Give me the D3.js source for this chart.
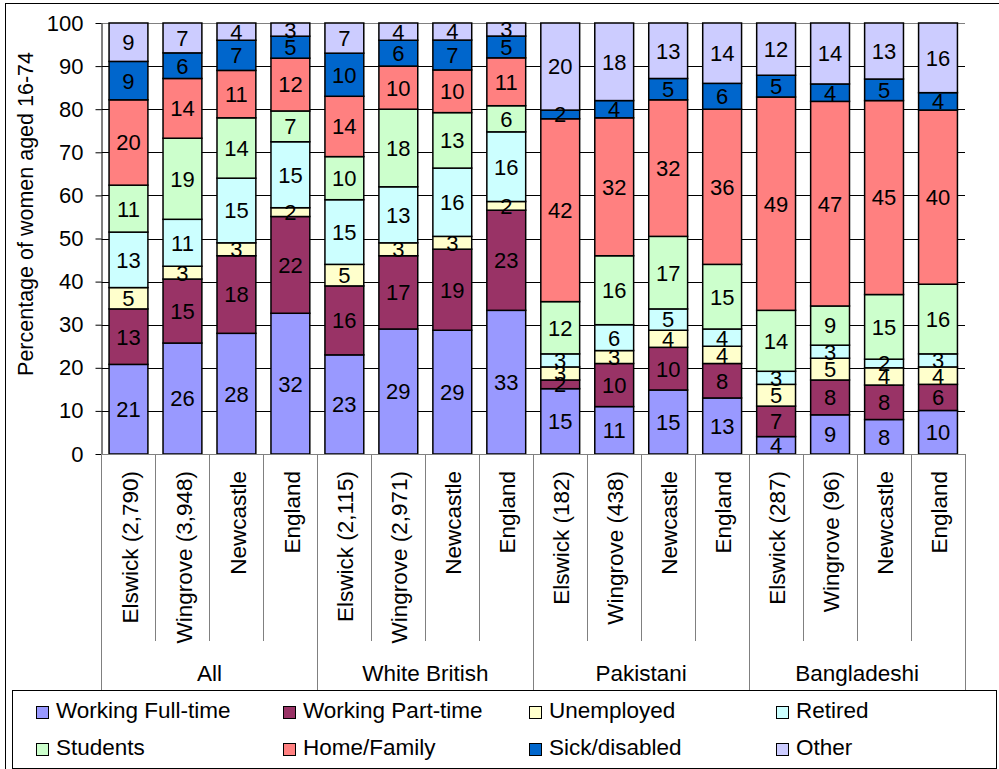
<!DOCTYPE html>
<html>
<head>
<meta charset="utf-8">
<script src="https://cdn.jsdelivr.net/npm/d3@7/dist/d3.min.js"></script>
<style>
  html, body { margin: 0; padding: 0; background: #fff; }
  svg { display: block; font-family: "Liberation Sans", Arial, sans-serif; }
</style>
</head>
<body>
<svg id="chart" width="999" height="769"></svg>
<script>
// Economic activity of women aged 16-74, by area and ethnic group (percent)
const categories = [
  "Elswick (2,790)", "Wingrove (3,948)", "Newcastle", "England",
  "Elswick (2,115)", "Wingrove (2,971)", "Newcastle", "England",
  "Elswick (182)", "Wingrove (438)", "Newcastle", "England",
  "Elswick (287)", "Wingrove (96)", "Newcastle", "England"
];
const groups = ["All", "White British", "Pakistani", "Bangladeshi"];
const seriesNames = [
  "Working Full-time", "Working Part-time", "Unemployed", "Retired",
  "Students", "Home/Family", "Sick/disabled", "Other"
];
const seriesColors = [
  "#9999FF", "#993366", "#FFFFCC", "#CCFFFF",
  "#CCFFCC", "#FF8080", "#0066CC", "#CCCCFF"
];

const workingFullTime = [21, 26, 28, 32, 23, 29, 29, 33, 15, 11, 15, 13, 4, 9, 8, 10];
const workingPartTime = [13, 15, 18, 22, 16, 17, 19, 23, 2, 10, 10, 8, 7, 8, 8, 6];
const unemployed      = [5, 3, 3, 2, 5, 3, 3, 2, 3, 3, 4, 4, 5, 5, 4, 4];
const retired         = [13, 11, 15, 15, 15, 13, 16, 16, 3, 6, 5, 4, 3, 3, 2, 3];
const students        = [11, 19, 14, 7, 10, 18, 13, 6, 12, 16, 17, 15, 14, 9, 15, 16];
const homeFamily      = [20, 14, 11, 12, 14, 10, 10, 11, 42, 32, 32, 36, 49, 47, 45, 40];
const sickDisabled    = [9, 6, 7, 5, 10, 6, 7, 5, 2, 4, 5, 6, 5, 4, 5, 4];
const other           = [9, 7, 4, 3, 7, 4, 4, 3, 20, 18, 13, 14, 12, 14, 13, 16];

const yTicks = [0, 10, 20, 30, 40, 50, 60, 70, 80, 90, 100];

const seriesValues = [workingFullTime, workingPartTime, unemployed, retired,
                      students, homeFamily, sickDisabled, other];

// one row per column, keyed by series name
const rows = categories.map((c, i) => {
  const r = { index: i };
  seriesNames.forEach((s, k) => { r[s] = seriesValues[k][i]; });
  return r;
});

const svg = d3.select("#chart");
const FONT = 22;
const BIG = 22.5;

// outer frame
svg.append("rect")
  .attr("x", 5.5).attr("y", 3.5)
  .attr("width", 1010).attr("height", 800)
  .attr("fill", "none").attr("stroke", "#000").attr("stroke-width", 1);

const plot = { left: 101.5, right: 965, top: 23, bottom: 454 };

const x = d3.scaleBand()
  .domain(d3.range(categories.length))
  .range([plot.left, plot.right])
  .paddingInner(0.28)
  .paddingOuter(0.14);

const y = d3.scaleLinear().domain([0, 100]).range([plot.bottom, plot.top]);

// 100% stacked layout
const stack = d3.stack().keys(seriesNames).offset(d3.stackOffsetExpand);
const stacked = stack(rows);

// horizontal gridlines
svg.append("g")
  .selectAll("line")
  .data(yTicks.filter(t => t > 0))
  .join("line")
  .attr("x1", plot.left).attr("x2", plot.right)
  .attr("y1", d => Math.round(y(d)) + 0.5).attr("y2", d => Math.round(y(d)) + 0.5)
  .attr("stroke", d => d === 100 ? "#808080" : "#000")
  .attr("stroke-width", 1);

// y axis
const yAxis = d3.axisLeft(y)
  .tickValues(yTicks)
  .tickSize(6)
  .tickPadding(12)
  .tickSizeOuter(0);
const yg = svg.append("g")
  .attr("transform", `translate(${plot.left},0)`)
  .call(yAxis);
yg.select(".domain").attr("stroke", "#000");
yg.selectAll(".tick line").attr("stroke", "#000");
yg.selectAll(".tick text")
  .attr("font-size", FONT)
  .attr("font-family", "Liberation Sans, Arial, sans-serif")
  .attr("fill", "#000");

// y axis title
svg.append("text")
  .attr("transform", "translate(33,214) rotate(-90)")
  .attr("text-anchor", "middle")
  .attr("font-size", BIG - 1)
  .text("Percentage of women aged 16-74");

// stacked columns
const layers = svg.append("g")
  .selectAll("g")
  .data(stacked)
  .join("g")
  .attr("fill", (d, i) => seriesColors[i]);

layers.selectAll("rect")
  .data(d => d)
  .join("rect")
  .attr("x", d => x(d.data.index))
  .attr("width", x.bandwidth())
  .attr("y", d => y(d[1] * 100))
  .attr("height", d => y(d[0] * 100) - y(d[1] * 100))
  .attr("stroke", "#000")
  .attr("stroke-width", 1.5);

// value labels
const labels = svg.append("g")
  .attr("font-size", FONT)
  .attr("text-anchor", "middle");
stacked.forEach((layer, k) => {
  labels.selectAll(null)
    .data(layer)
    .join("text")
    .attr("x", d => x(d.data.index) + x.bandwidth() / 2)
    .attr("y", d => y((d[0] + d[1]) * 50))
    .attr("dy", "0.36em")
    .text(d => d.data[seriesNames[k]]);
});

// x axis line
svg.append("line")
  .attr("x1", plot.left).attr("x2", plot.right)
  .attr("y1", plot.bottom + 0.5).attr("y2", plot.bottom + 0.5)
  .attr("stroke", "#808080");

// category dividers (group boundaries run down to the legend)
const step = x.step();
const boundary = i => x(0) - (step - x.bandwidth()) / 2 + i * step;
svg.append("g")
  .selectAll("line")
  .data(d3.range(categories.length + 1))
  .join("line")
  .attr("x1", i => Math.round(boundary(i)) + 0.5)
  .attr("x2", i => Math.round(boundary(i)) + 0.5)
  .attr("y1", plot.bottom)
  .attr("y2", i => i % 4 === 0 ? 690 : 641)
  .attr("stroke", "#808080");

// category labels
svg.append("g")
  .selectAll("text")
  .data(categories)
  .join("text")
  .attr("transform", (d, i) =>
    `translate(${x(i) + x.bandwidth() / 2 + 1},471) rotate(-90)`)
  .attr("text-anchor", "end")
  .attr("dy", "0.36em")
  .attr("font-size", BIG)
  .text(d => d);

// group labels
svg.append("g")
  .selectAll("text")
  .data(groups)
  .join("text")
  .attr("x", (d, g) => (boundary(g * 4) + boundary(g * 4 + 4)) / 2)
  .attr("y", 681)
  .attr("text-anchor", "middle")
  .attr("font-size", BIG)
  .text(d => d);

// legend
svg.append("rect")
  .attr("x", 12.5).attr("y", 690.5)
  .attr("width", 984).attr("height", 78)
  .attr("fill", "#fff").attr("stroke", "#000");

const legendCols = [36, 283, 529, 776];
const legendRows = [706, 743];
const legend = svg.append("g")
  .selectAll("g")
  .data(seriesNames)
  .join("g")
  .attr("transform", (d, i) =>
    `translate(${legendCols[i % 4]},${legendRows[Math.floor(i / 4)]})`);
legend.append("rect")
  .attr("x", 0.5).attr("y", 0.5)
  .attr("width", 12).attr("height", 12)
  .attr("fill", (d, i) => seriesColors[i])
  .attr("stroke", "#000");
legend.append("text")
  .attr("x", 20)
  .attr("y", 12)
  .attr("font-size", BIG)
  .text(d => d);
</script>
</body>
</html>
